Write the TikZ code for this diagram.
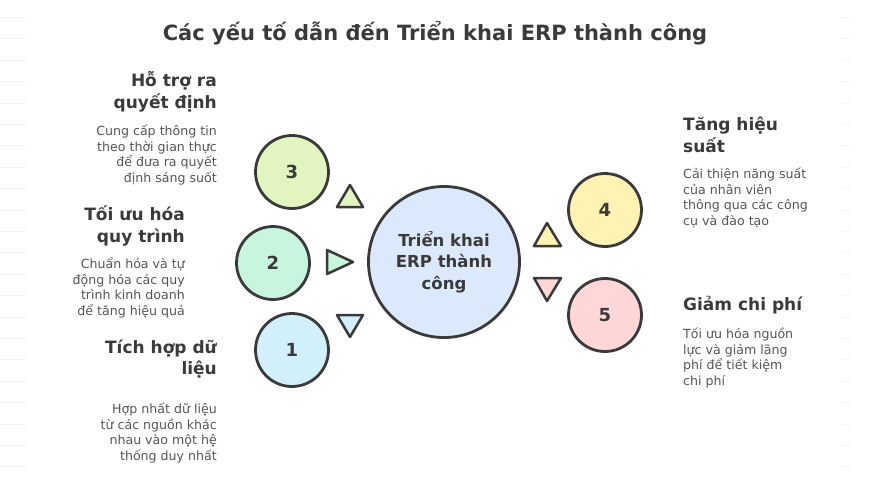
\documentclass[tikz,border=0pt]{standalone}
\usepackage{fontspec}
\setmainfont{DejaVu Sans}
\definecolor{ink}{HTML}{3A3A3A}
\definecolor{txt}{HTML}{555555}
\definecolor{paper}{HTML}{F3F3F3}
\definecolor{cblue}{HTML}{D2F0FB}
\definecolor{cmint}{HTML}{C8F5DE}
\definecolor{clime}{HTML}{E2F5C0}
\definecolor{cyellow}{HTML}{FFF3B3}
\definecolor{cpink}{HTML}{FFD7D7}
\definecolor{ccore}{HTML}{DCE8FC}
\begin{document}
\begin{tikzpicture}[x=1pt,y=-1pt,line join=round,line cap=round,
	ring/.style={circle,draw=ink,line width=2.8pt,inner sep=0pt,minimum size=73pt,text=ink,font=\bfseries\fontsize{18}{18}\selectfont},
	head/.style={inner sep=0pt,text=ink,font=\bfseries\fontsize{17}{21.5}\selectfont},
	body/.style={inner sep=0pt,text=txt,font=\fontsize{12.6}{15.5}\selectfont},
	tri/.style={draw=ink,line width=2.5pt}]
	\useasboundingbox (0,0) rectangle (871,480);
	% faint paper lines
	\foreach \k in {0,...,21}{
		\draw[paper,line width=0.8pt] (0,17.3+21.4*\k)--(27,17.3+21.4*\k);
		\draw[paper,line width=0.8pt] (841,17.3+21.4*\k)--(851,17.3+21.4*\k);
	}
	\node[text=ink,font=\bfseries\fontsize{21}{21}\selectfont] (title) at (435,33) {Các yếu tố dẫn đến Triển khai ERP thành công};
	% circles
	\node[ring,fill=ccore,minimum size=151pt,align=center,font=\bfseries\fontsize{16.5}{21.5}\selectfont] (core) at (444,262) {Triển khai\\ERP thành\\công};
	\node[ring,fill=clime] (c3) at (292,172) {3};
	\node[ring,fill=cmint] (c2) at (273,263) {2};
	\node[ring,fill=cblue] (c1) at (292,350) {1};
	\node[ring,fill=cyellow] (c4) at (605,210) {4};
	\node[ring,fill=cpink] (c5) at (605,315) {5};
	% triangles
	\draw[tri,fill=clime] (350,185)--(337,207)--(363,207)--cycle;
	\draw[tri,fill=cmint] (327,250)--(353,262)--(327,274)--cycle;
	\draw[tri,fill=cblue] (337,315)--(363,315)--(350,337)--cycle;
	\draw[tri,fill=cyellow] (547,223)--(534,246)--(561,246)--cycle;
	\draw[tri,fill=cpink] (534,278)--(561,278)--(547,301)--cycle;
	% left texts
	\node[head,anchor=east,align=right] (h3) at (217,92) {Hỗ trợ ra\\quyết định};
	\node[body,anchor=east,align=right] (b3) at (217,155) {Cung cấp thông tin\\theo thời gian thực\\để đưa ra quyết\\định sáng suốt};
	\node[head,anchor=east,align=right] (h2) at (185,226) {Tối ưu hóa\\quy trình};
	\node[body,anchor=east,align=right] (b2) at (185,288) {Chuẩn hóa và tự\\động hóa các quy\\trình kinh doanh\\để tăng hiệu quả};
	\node[head,anchor=east,align=right] (h1) at (217,359) {Tích hợp dữ\\liệu};
	\node[body,anchor=east,align=right] (b1) at (217,433) {Hợp nhất dữ liệu\\từ các nguồn khác\\nhau vào một hệ\\thống duy nhất};
	% right texts
	\node[head,anchor=west,align=left] (h4) at (683,135) {Tăng hiệu\\suất};
	\node[body,anchor=west,align=left] (b4) at (683,198) {Cải thiện năng suất\\của nhân viên\\thông qua các công\\cụ và đào tạo};
	\node[head,anchor=west,align=left] (h5) at (683,305) {Giảm chi phí};
	\node[body,anchor=west,align=left] (b5) at (683,358) {Tối ưu hóa nguồn\\lực và giảm lãng\\phí để tiết kiệm\\chi phí};
\end{tikzpicture}
\end{document}
